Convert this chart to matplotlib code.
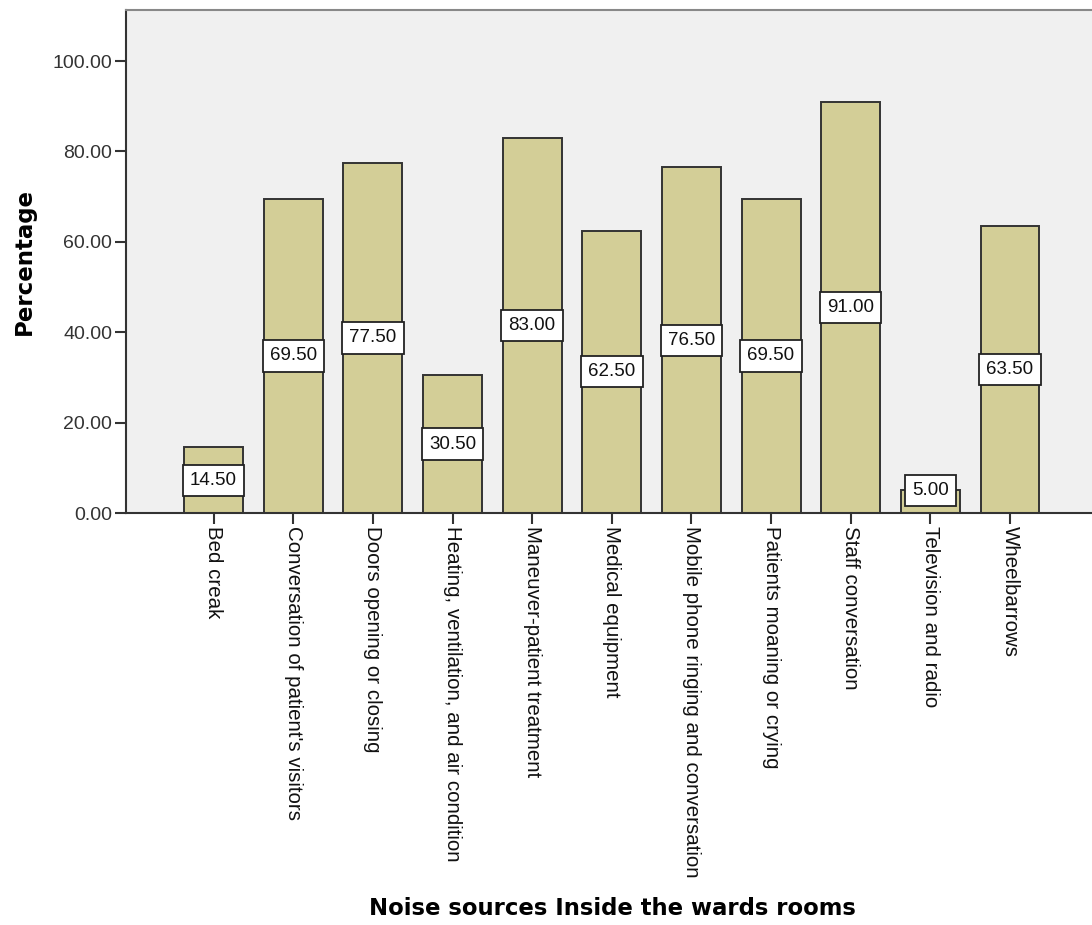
import matplotlib
matplotlib.use('Agg')
import matplotlib.pyplot as plt
import numpy as np

# -- Data -- #
categories = [
    'Bed creak',
    "Conversation of patient's visitors",
    'Doors opening or closing',
    'Heating, ventilation, and air condition',
    'Maneuver-patient treatment',
    'Medical equipment',
    'Mobile phone ringing and conversation',
    'Patients moaning or crying',
    'Staff conversation',
    'Television and radio',
    'Wheelbarrows',
]
percentages = [14.5, 69.5, 77.5, 30.5, 83.0, 62.5, 76.5, 69.5, 91.0, 5.0, 63.5]
y_ticks = [0, 20, 40, 60, 80, 100]

BAR_COLOR = '#d3ce97'
BG_COLOR = '#f0f0f0'
EDGE_COLOR = '#333333'

plt.rcParams['font.family'] = ['Liberation Sans', 'DejaVu Sans']

fig = plt.figure(figsize=(10.92, 9.25), dpi=100)
ax = fig.add_axes([126 / 1092, 412 / 925, 1 - 126 / 1092, 503 / 925])
ax.set_facecolor(BG_COLOR)

x = np.arange(len(categories))
ax.bar(x, percentages, width=0.74, color=BAR_COLOR, edgecolor=EDGE_COLOR,
       linewidth=1.4, zorder=2)

for xi, val in zip(x, percentages):
    ax.text(xi, max(val / 2, 5.0), f'{val:.2f}', ha='center', va='center',
            fontsize=13.5, color='#111111', zorder=3,
            bbox=dict(boxstyle='square,pad=0.38', facecolor='white',
                      edgecolor='#222222', linewidth=1.3))

ax.set_xlim(-1.1, 11.03)
ax.set_ylim(0, 111.3)
ax.set_yticks(y_ticks)
ax.set_yticklabels([f'{t:.2f}' for t in y_ticks], fontsize=14, color='#333333')
ax.set_xticks(x)
ax.set_xticklabels(categories, rotation=-90, fontsize=14.8, color='#111111',
                   ha='center', va='top', rotation_mode='default')
ax.tick_params(axis='both', direction='out', length=8, width=1.5, color='#333333')
ax.tick_params(axis='x', pad=1)
ax.tick_params(axis='y', pad=2)

for side in ['left', 'bottom']:
    ax.spines[side].set_color('#333333')
    ax.spines[side].set_linewidth(1.5)
ax.spines['top'].set_color('#888888')
ax.spines['top'].set_linewidth(1.5)
ax.spines['right'].set_visible(False)

ax.set_ylabel('Percentage', fontsize=16.5, fontweight='bold',
              family='DejaVu Sans', labelpad=12)
fig.text(612 / 1092, 5 / 925, 'Noise sources Inside the wards rooms',
         ha='center', va='bottom', fontsize=16.4, fontweight='bold',
         family='DejaVu Sans')

fig.savefig('out.png', dpi=100, facecolor='white')
